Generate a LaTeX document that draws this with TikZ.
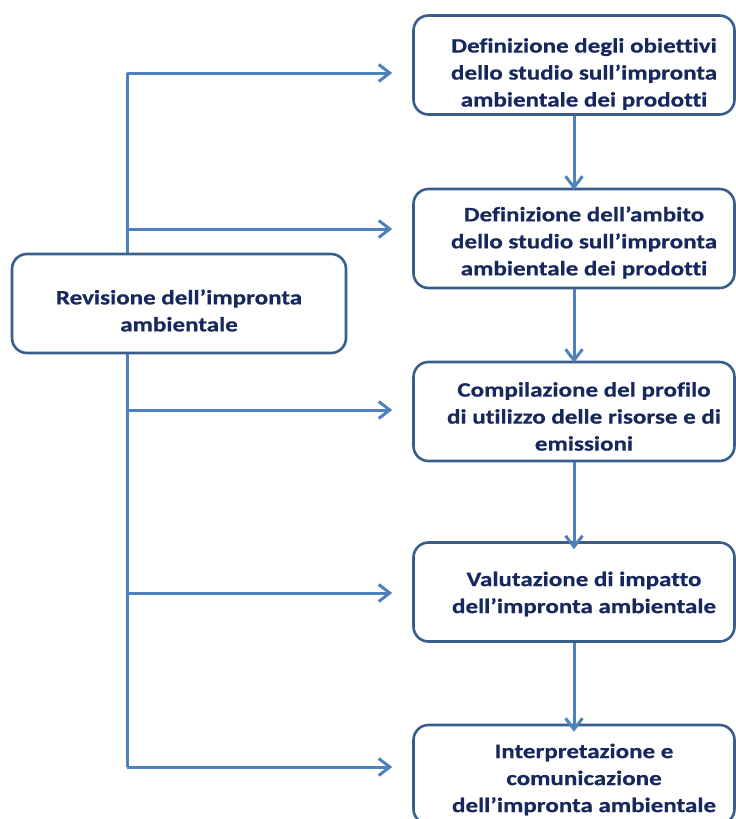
\documentclass[tikz,border=0pt]{standalone}
\usepackage{fontspec}
\setmainfont{Carlito}[FakeStretch=1.22, Ligatures=NoCommon, BoldFeatures={FakeBold=0.6}]
\usetikzlibrary{arrows.meta}

\definecolor{boxblue}{RGB}{58,94,140}
\definecolor{arrowblue}{RGB}{79,129,189}
\definecolor{textnavy}{RGB}{22,40,94}

\begin{document}
\begin{tikzpicture}[x=1pt,y=-1pt,
  stepbox/.style={draw=boxblue, line width=2.6pt, rounded corners=15pt, fill=white,
    minimum width=321pt, minimum height=99pt},
  steptext/.style={text=textnavy, align=center, font=\bfseries\fontsize{20.5}{27}\selectfont},
  flow/.style={draw=arrowblue, line width=3pt, -{Straight Barb[length=11pt,width=17pt,line width=3pt]}},
  trunk/.style={draw=arrowblue, line width=3pt}]
\useasboundingbox (0,0) rectangle (736,819);
% trunk on the left
\coordinate (t1) at (127,73);
\coordinate (t2) at (127,229);
\coordinate (t3) at (127,410);
\coordinate (t4) at (127,593);
\coordinate (t5) at (127,767);
\draw[trunk] (t1)--(t5);
% left box
\node[stepbox, minimum width=334pt, minimum height=99pt] (revisione) at (179,303.5) {};
\node[steptext] (revisione-t) at ([yshift=-7]revisione.center) {Revisione dell’impronta\\ambientale};
% boxes on the right
\node[stepbox] (obiettivi) at (574,65) {};
\node[steptext] (obiettivi-t) at ([xshift=10,yshift=-9]obiettivi.center) {Definizione degli obiettivi\\dello studio sull’impronta\\ambientale dei prodotti};
\node[stepbox] (ambito) at (574,238.5) {};
\node[steptext] (ambito-t) at ([xshift=10,yshift=-4]ambito.center) {Definizione dell’ambito\\dello studio sull’impronta\\ambientale dei prodotti};
\node[stepbox] (profilo) at (574,411.5) {};
\node[steptext] (profilo-t) at ([xshift=10,yshift=-5]profilo.center) {Compilazione del profilo\\di utilizzo delle risorse e di\\emissioni};
\node[stepbox] (impatto) at (574,592) {};
\node[steptext] (impatto-t) at ([xshift=10,yshift=-2]impatto.center) {Valutazione di impatto\\dell’impronta ambientale};
\node[stepbox] (interpretazione) at (574,774.5) {};
\node[steptext] (interpretazione-t) at ([xshift=10,yshift=-5]interpretazione.center) {Interpretazione e\\comunicazione\\dell’impronta ambientale};
% arrows from the trunk
\foreach \t/\b in {t1/obiettivi,t2/ambito,t3/profilo,t4/impatto,t5/interpretazione}
  \draw[flow, shorten >=20pt] (\t) -- (\t -| \b.west);
% arrows between the steps
\draw[flow] (obiettivi.south) -- ([yshift=-2]ambito.north);
\draw[flow] (ambito.south) -- ([yshift=-2]profilo.north);
\draw[flow] (profilo.south) -- ([yshift=-8]impatto.north);
\draw[flow] (impatto.south) -- ([yshift=-8]interpretazione.north);
\end{tikzpicture}
\end{document}
